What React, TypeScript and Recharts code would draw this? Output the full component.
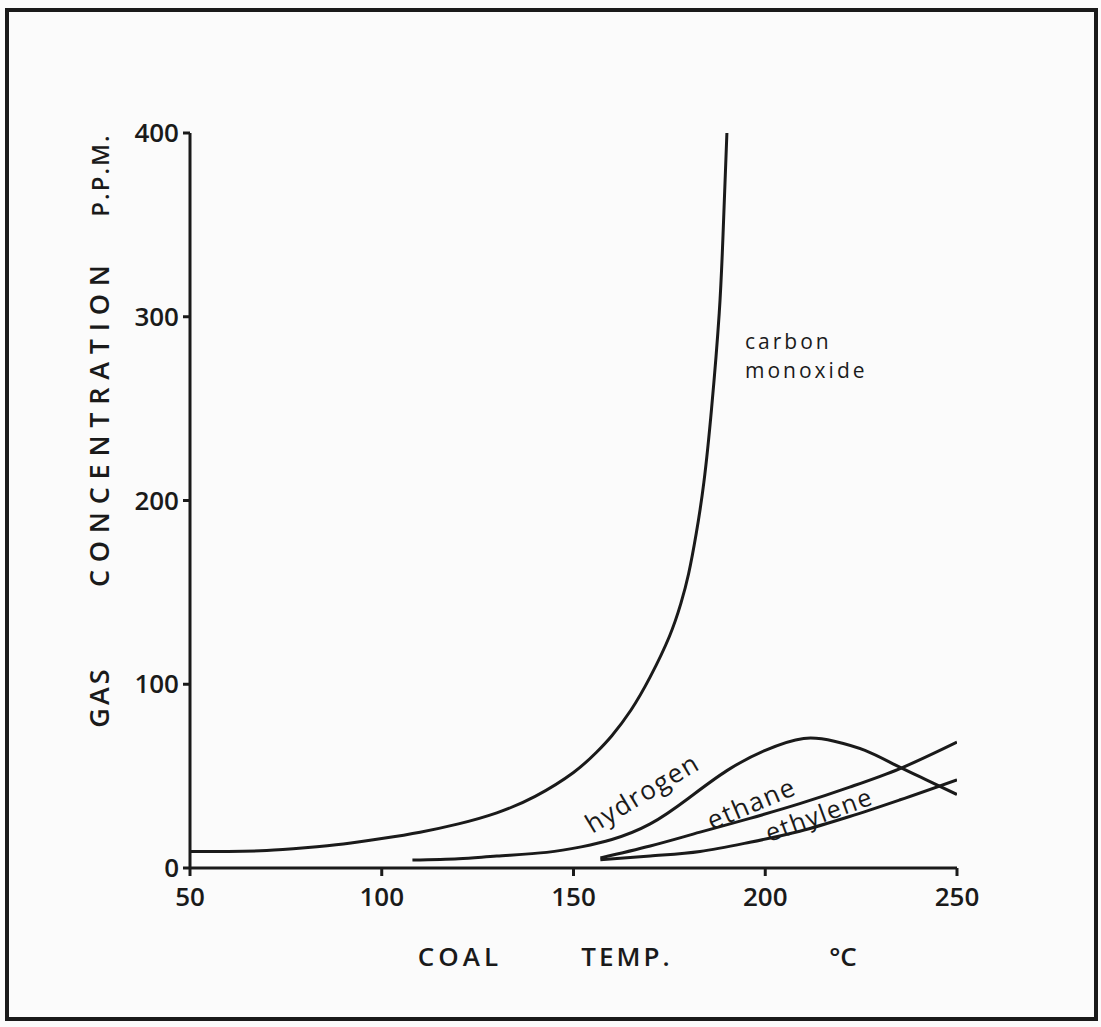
import React from "react";
import { LineChart, Line, XAxis, YAxis } from "recharts";

// coal temperature (°C) vs gas concentration (p.p.m.)
const coTemps = [50, 60, 70, 80, 90, 100, 110, 120, 130, 140, 150, 156, 160, 165, 170, 175, 178, 180, 182, 184, 186, 188, 189, 190];
const coValues = [9, 9, 9.5, 11, 13, 16, 19.5, 24, 30, 39, 52, 63, 72, 86, 104, 126, 144, 160, 182, 210, 250, 302, 345, 400];

const h2Temps = [108, 120, 130, 143, 152, 160, 170, 180, 190, 200, 210, 218, 226, 234, 242, 250];
const h2Values = [4.3, 5, 6.5, 8.5, 11.5, 15.5, 24, 38, 53, 64, 70.5, 69, 64, 56, 48, 40];

const ethaneTemps = [157, 170, 183, 196, 209, 222, 235, 250];
const ethaneValues = [5.5, 12, 19.5, 27, 35, 44, 54, 68.5];

const ethyleneTemps = [157, 170, 183, 196, 209, 222, 235, 250];
const ethyleneValues = [4.5, 6.5, 9, 14, 20, 28, 37, 48];

const xTicks = [50, 100, 150, 200, 250];
const yTicks = [0, 100, 200, 300, 400];

const toRows = (temps: number[], values: number[]) =>
  temps.map((t, i) => ({ t, v: values[i] }));

const INK = "#1a1a1a";
const FONT = "'Open Sans', 'DejaVu Sans', sans-serif";

export default function App() {
  const lineProps = {
    dataKey: "v",
    stroke: INK,
    strokeWidth: 3,
    dot: false,
    isAnimationActive: false,
  };

  const tickStyle = { fill: INK, fontSize: 26, fontFamily: FONT, fontWeight: 600 };

  return (
    <div style={{ position: "absolute", left: 0, top: 0, width: 1101, height: 1027, background: "#fbfbfb" }}>
      <LineChart
        width={1101}
        height={1027}
        margin={{ top: 133, right: 144, bottom: 0, left: 0 }}
      >
        <XAxis
          type="number"
          dataKey="t"
          domain={[50, 250]}
          ticks={xTicks}
          allowDataOverflow
          height={159}
          stroke={INK}
          strokeWidth={3}
          tickSize={8}
          tickMargin={12}
          tick={tickStyle}
          tickLine={{ stroke: INK, strokeWidth: 3 }}
        />
        <YAxis
          type="number"
          domain={[0, 400]}
          ticks={yTicks}
          width={190}
          stroke={INK}
          strokeWidth={3}
          tickSize={7}
          tickMargin={4}
          tick={tickStyle}
          tickLine={{ stroke: INK, strokeWidth: 3 }}
        />
        <Line {...lineProps} type="natural" data={toRows(coTemps, coValues)} name="carbon monoxide" />
        <Line {...lineProps} type="natural" data={toRows(h2Temps, h2Values)} name="hydrogen" />
        <Line {...lineProps} type="monotone" data={toRows(ethaneTemps, ethaneValues)} name="ethane" />
        <Line {...lineProps} type="monotone" data={toRows(ethyleneTemps, ethyleneValues)} name="ethylene" />
      </LineChart>

      {/* frame, axis titles and curve labels */}
      <svg
        width={1101}
        height={1027}
        style={{ position: "absolute", left: 0, top: 0, pointerEvents: "none" }}
        fontFamily={FONT}
        fill={INK}
      >
        <rect x={7} y={10} width={1089} height={1009} fill="none" stroke={INK} strokeWidth={4} />

        <g fontSize={26} fontWeight={600}>
          <text x={460} y={966} textAnchor="middle" letterSpacing={4}>COAL</text>
          <text x={627} y={966} textAnchor="middle" letterSpacing={3}>TEMP.</text>
          <text x={843} y={966} textAnchor="middle">°C</text>
        </g>

        <g transform="translate(109, 0)" fontWeight={600}>
          <text transform="translate(0, 697) rotate(-90)" fontSize={27} textAnchor="middle" letterSpacing={3}>GAS</text>
          <text
            transform="translate(0, 587) rotate(-90)"
            fontSize={27}
            textLength={322}
            lengthAdjust="spacing"
          >
            CONCENTRATION
          </text>
          <text transform="translate(0, 175) rotate(-90)" fontSize={24} textAnchor="middle" letterSpacing={2}>P.P.M.</text>
        </g>

        <g fontWeight={500}>
          <text x={745} y={349} fontSize={21} letterSpacing={3}>carbon</text>
          <text x={745} y={378} fontSize={21} letterSpacing={3}>monoxide</text>

          <text transform="translate(647, 801) rotate(-31)" fontSize={26} textAnchor="middle" letterSpacing={1.5}>hydrogen</text>
          <text transform="translate(755, 812) rotate(-23)" fontSize={26} textAnchor="middle" letterSpacing={1.5}>ethane</text>
          <text transform="translate(822, 823) rotate(-20)" fontSize={25} textAnchor="middle" letterSpacing={1.5}>ethylene</text>
        </g>
      </svg>
    </div>
  );
}
